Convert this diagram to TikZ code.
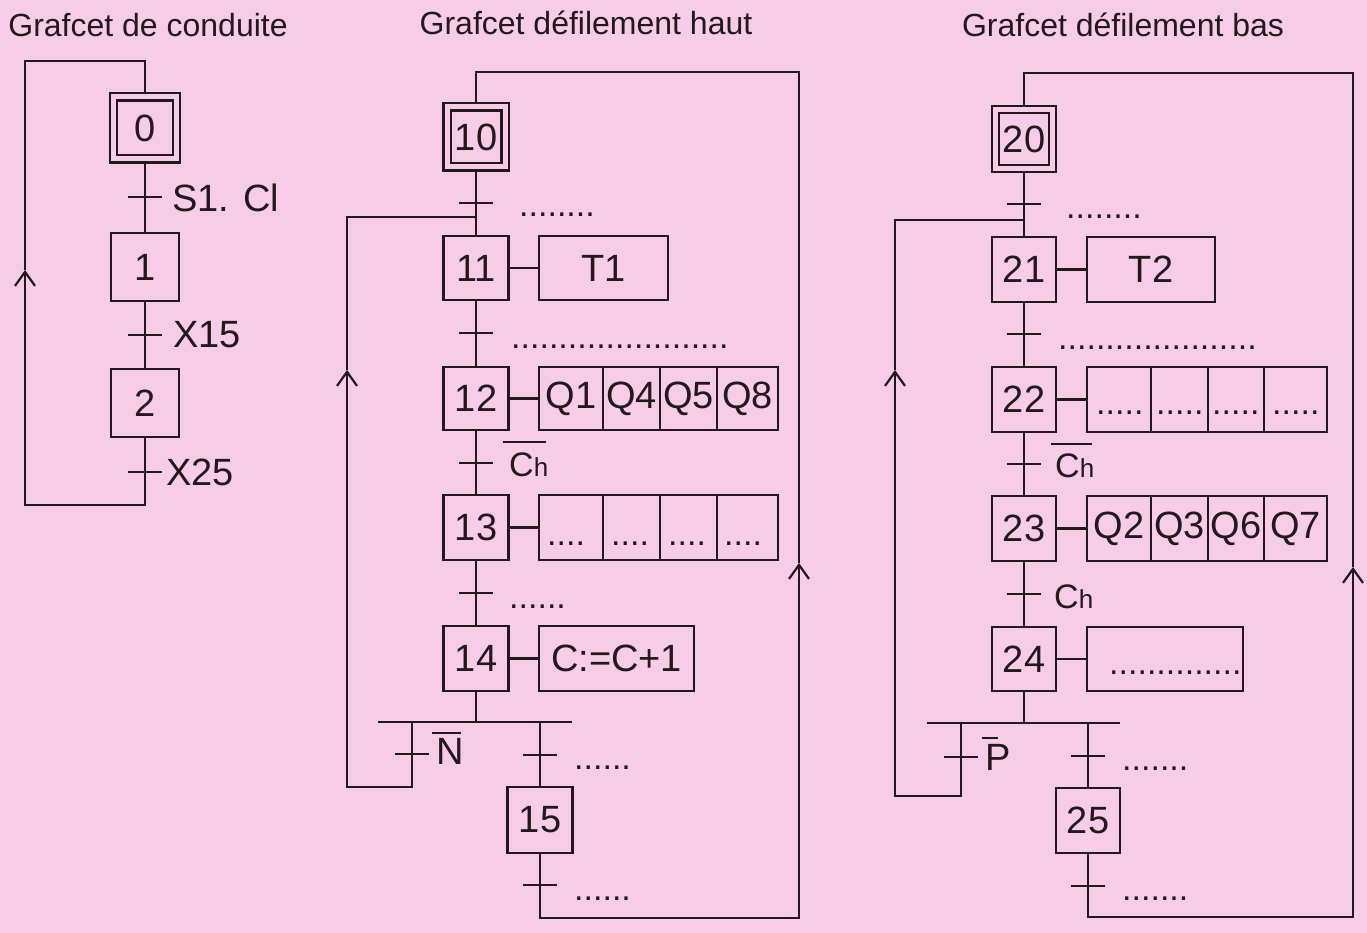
\documentclass[tikz,border=0pt]{standalone}
\usepackage{fontspec}
\setmainfont{Liberation Sans}
\usetikzlibrary{arrows.meta}
\definecolor{bg}{RGB}{247,204,230}
\definecolor{ink}{RGB}{34,24,30}
\tikzset{
 ln/.style={draw=ink, line width=2.2pt},
 stepbox/.style={draw=ink, line width=2.2pt, inner sep=0pt, minimum width=65pt, minimum height=65pt, text=ink, font=\fontsize{38}{38}\selectfont},
 initstep/.style={stepbox, double=bg, double distance=5pt, outer sep=3.6pt},
 actbox/.style={draw=ink, line width=2.2pt, inner sep=0pt, minimum height=64pt, text=ink, font=\fontsize{38}{38}\selectfont},
 lbl/.style={text=ink, inner sep=0pt, font=\fontsize{38}{38}\selectfont, anchor=west},
 chl/.style={text=ink, inner sep=0pt, font=\fontsize{34}{34}\selectfont, anchor=west},
 dotl/.style={text=ink, inner sep=0pt, font=\fontsize{34}{34}\selectfont, anchor=base west},
 ttl/.style={text=ink, inner sep=0pt, font=\fontsize{32}{32}\selectfont},
 upar/.style={ln, -{Straight Barb[length=14pt,width=20pt]}},
}
\newcommand{\tickmark}[1]{\draw[ln] ([xshift=-17pt]#1) -- ([xshift=17pt]#1);}
\begin{document}
\begin{tikzpicture}[x=1pt,y=-1pt]
\fill[bg] (0,0) rectangle (1367,933);
\useasboundingbox (0,0) rectangle (1367,933);

% titles
\node[ttl] (ttl1) at (148,25) {Grafcet de conduite};
\node[ttl] (ttl2) at (586,23) {Grafcet défilement haut};
\node[ttl] (ttl3) at (1123,25) {Grafcet défilement bas};

% ================= Grafcet de conduite =================
\node[initstep, minimum width=63pt, minimum height=62pt] (s0) at (145,128) {0};
\node[stepbox, minimum width=68pt, minimum height=68pt] (s1) at (145,267) {1};
\node[stepbox, minimum width=68pt, minimum height=68pt] (s2) at (145,403) {2};
\coordinate (t0) at (145,197);
\coordinate (t1) at (145,335);
\coordinate (t2) at (145,472);
\coordinate (lb1) at (145,505);
\coordinate (lb2) at (25,505);
\coordinate (la) at (25,270);
\coordinate (lt1) at (25,61);
\coordinate (lt2) at (145,61);
\draw[ln] (s0) -- (s1);
\draw[ln] (s1) -- (s2);
\draw[upar] (s2.south) -- (lb1) -- (lb2) -- (la);
\draw[ln] (la) -- (lt1) -- (lt2) -- (s0.north);
\tickmark{t0}\tickmark{t1}\tickmark{t2}
\node[lbl] (l0) at (172,198) {S1. Cl};
\node[lbl] (l1) at (173,335) {X15};
\node[lbl] (l2) at (166,472) {X25};

% ================= Grafcet défilement haut =================
\node[initstep, minimum width=58pt, minimum height=60pt] (s10) at (476,137) {10};
\node[stepbox, minimum height=64pt] (s11) at (476,268) {11};
\node[stepbox, minimum height=63pt] (s12) at (476,398.5) {12};
\node[stepbox] (s13) at (476,527.5) {13};
\node[stepbox] (s14) at (476,658.5) {14};
\node[stepbox, minimum height=66pt] (s15) at (540,820) {15};
\node[actbox, minimum width=129pt] (a11) at (603.5,268) {T1};
\node[actbox, minimum width=64pt, minimum height=63pt] (a12a) at (571,398.5) {Q1};
\node[actbox, minimum width=57pt, minimum height=63pt] (a12b) at (631.5,398.5) {Q4};
\node[actbox, minimum width=57pt, minimum height=63pt] (a12c) at (688.5,398.5) {Q5};
\node[actbox, minimum width=61pt, minimum height=63pt] (a12d) at (747.5,398.5) {Q8};
\node[actbox, minimum width=64pt, minimum height=65pt] (a13a) at (571,527.5) {};
\node[actbox, minimum width=57pt, minimum height=65pt] (a13b) at (631.5,527.5) {};
\node[actbox, minimum width=57pt, minimum height=65pt] (a13c) at (688.5,527.5) {};
\node[actbox, minimum width=61pt, minimum height=65pt] (a13d) at (747.5,527.5) {};
\node[dotl] (d13a) at (547,545) {....};
\node[dotl] (d13b) at (611,545) {....};
\node[dotl] (d13c) at (668,545) {....};
\node[dotl] (d13d) at (724,545) {....};
\node[actbox, minimum width=155pt, minimum height=65pt] (a14) at (616.5,658.5) {C:=C+1};
\draw[ln] (s11) -- (a11);
\draw[ln] (s12) -- (a12a);
\draw[ln] (s13) -- (a13a);
\draw[ln] (s14) -- (a14);

\coordinate (t10) at (476,203);
\coordinate (j1) at (476,217);
\coordinate (t11) at (476,333);
\coordinate (t12) at (476,463);
\coordinate (t13) at (476,593);
\coordinate (dj1) at (476,722);
\coordinate (dw1) at (378,722);
\coordinate (de1) at (572,722);
\coordinate (bl1) at (412,722);
\coordinate (tn) at (412,754);
\coordinate (bl2) at (412,787);
\coordinate (bl3) at (347,787);
\coordinate (la1) at (347,370);
\coordinate (lj1) at (347,217);
\coordinate (br1) at (540,722);
\coordinate (tb1) at (540,755);
\coordinate (t15) at (540,885);
\coordinate (rb1) at (540,918);
\coordinate (rb2) at (799,918);
\coordinate (ra1) at (799,563);
\coordinate (rt1) at (799,72);
\coordinate (rt2) at (476,72);

\draw[ln] (s10) -- (s11);
\draw[ln] (s11) -- (s12);
\draw[ln] (s12) -- (s13);
\draw[ln] (s13) -- (s14);
\draw[ln] (s14.south) -- (dj1);
\draw[ln] (dw1) -- (de1);
\draw[upar] (bl1) -- (bl2) -- (bl3) -- (la1);
\draw[ln] (la1) -- (lj1) -- (j1);
\draw[ln] (br1) -- (s15.north);
\draw[upar] (s15.south) -- (rb1) -- (rb2) -- (ra1);
\draw[ln] (ra1) -- (rt1) -- (rt2) -- (s10.north);
\tickmark{t10}\tickmark{t11}\tickmark{t12}\tickmark{t13}\tickmark{tn}\tickmark{tb1}\tickmark{t15}

\node[dotl] (l10) at (519,217) {........};
\node[dotl] (l11) at (511,348) {.......................};
\node[chl] (l12) at (509,465) {C\fontsize{26}{26}\selectfont h};
\draw[ln] ([xshift=-6pt,yshift=11pt]l12.north west) -- ([xshift=-2pt,yshift=11pt]l12.north east);
\node[dotl] (l13) at (509,608) {......};
\node[lbl] (lN) at (436,751) {N};
\draw[ln] ([xshift=-4pt,yshift=5pt]lN.north west) -- ([xshift=-3pt,yshift=5pt]lN.north east);
\node[dotl] (lb) at (574,769) {......};
\node[dotl] (l15) at (574,900) {......};

% ================= Grafcet défilement bas =================
\node[initstep, minimum width=57pt, minimum height=59pt] (s20) at (1024,139) {20};
\node[stepbox, minimum width=64pt] (s21) at (1024,269.5) {21};
\node[stepbox, minimum width=64pt] (s22) at (1024,399.5) {22};
\node[stepbox, minimum width=64pt] (s23) at (1024,528.5) {23};
\node[stepbox, minimum width=64pt, minimum height=64pt] (s24) at (1024,659) {24};
\node[stepbox, minimum width=64pt] (s25) at (1088,820.5) {25};
\node[actbox, minimum width=128pt, minimum height=65pt] (a21) at (1151,269.5) {T2};
\node[actbox, minimum width=64pt, minimum height=65pt] (a22a) at (1119,399.5) {};
\node[actbox, minimum width=57pt, minimum height=65pt] (a22b) at (1179.5,399.5) {};
\node[actbox, minimum width=56pt, minimum height=65pt] (a22c) at (1236,399.5) {};
\node[actbox, minimum width=63pt, minimum height=65pt] (a22d) at (1295.5,399.5) {};
\node[dotl] (d22a) at (1096,414) {.....};
\node[dotl] (d22b) at (1156,414) {.....};
\node[dotl] (d22c) at (1212,414) {.....};
\node[dotl] (d22d) at (1272,414) {.....};
\node[actbox, minimum width=64pt, minimum height=65pt] (a23a) at (1119,528.5) {Q2};
\node[actbox, minimum width=57pt, minimum height=65pt] (a23b) at (1179.5,528.5) {Q3};
\node[actbox, minimum width=56pt, minimum height=65pt] (a23c) at (1236,528.5) {Q6};
\node[actbox, minimum width=63pt, minimum height=65pt] (a23d) at (1295.5,528.5) {Q7};
\node[actbox, minimum width=156pt, minimum height=64pt] (a24) at (1165,659) {};
\node[dotl] (d24) at (1109,674) {..............};
\draw[ln] (s21) -- (a21);
\draw[ln] (s22) -- (a22a);
\draw[ln] (s23) -- (a23a);
\draw[ln] (s24) -- (a24);

\coordinate (t20) at (1024,204);
\coordinate (j2) at (1024,220);
\coordinate (t21) at (1024,334);
\coordinate (t22) at (1024,464);
\coordinate (t23) at (1024,594);
\coordinate (dj2) at (1024,723);
\coordinate (dw2) at (927,723);
\coordinate (de2) at (1120,723);
\coordinate (cl1) at (961,723);
\coordinate (tp) at (961,757);
\coordinate (cl2) at (961,796);
\coordinate (cl3) at (895,796);
\coordinate (la2) at (895,370);
\coordinate (lj2) at (895,220);
\coordinate (cr1) at (1088,723);
\coordinate (tc1) at (1088,756);
\coordinate (t25) at (1088,886);
\coordinate (rc1) at (1088,917);
\coordinate (rc2) at (1353,917);
\coordinate (ra2) at (1353,567);
\coordinate (rs1) at (1353,73);
\coordinate (rs2) at (1024,73);

\draw[ln] (s20) -- (s21);
\draw[ln] (s21) -- (s22);
\draw[ln] (s22) -- (s23);
\draw[ln] (s23) -- (s24);
\draw[ln] (s24.south) -- (dj2);
\draw[ln] (dw2) -- (de2);
\draw[upar] (cl1) -- (cl2) -- (cl3) -- (la2);
\draw[ln] (la2) -- (lj2) -- (j2);
\draw[ln] (cr1) -- (s25.north);
\draw[upar] (s25.south) -- (rc1) -- (rc2) -- (ra2);
\draw[ln] (ra2) -- (rs1) -- (rs2) -- (s20.north);
\tickmark{t20}\tickmark{t21}\tickmark{t22}\tickmark{t23}\tickmark{tp}\tickmark{tc1}\tickmark{t25}

\node[dotl] (l20) at (1066,219) {........};
\node[dotl] (l21) at (1058,349) {.....................};
\node[chl] (l22) at (1055,466) {C\fontsize{26}{26}\selectfont h};
\draw[ln] ([xshift=-4pt,yshift=10pt]l22.north west) -- ([xshift=-2pt,yshift=10pt]l22.north east);
\node[chl] (l23) at (1054,597) {C\fontsize{26}{26}\selectfont h};
\node[lbl] (lP) at (985,757) {P};
\draw[ln] ([xshift=-3pt,yshift=6pt]lP.north west) -- ([xshift=13pt,yshift=6pt]lP.north west);
\node[dotl] (lc) at (1122,770) {.......};
\node[dotl] (l25) at (1122,900) {.......};
\end{tikzpicture}
\end{document}
